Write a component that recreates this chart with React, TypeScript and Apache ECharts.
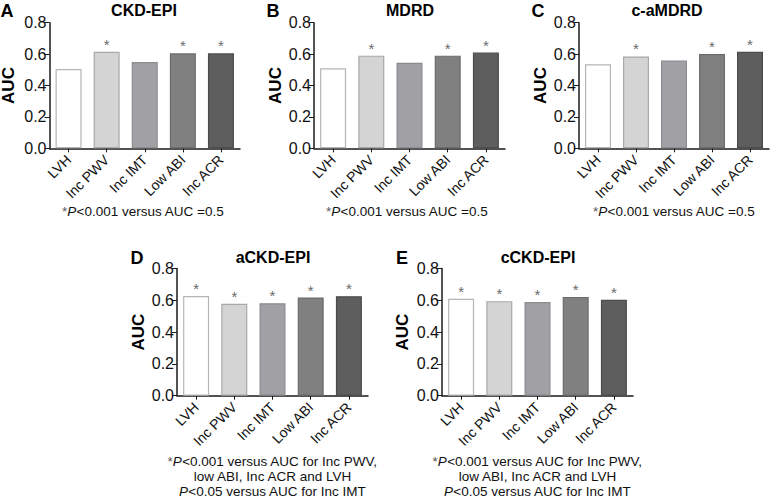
import React, { useEffect, useRef } from "react";
import * as echarts from "echarts";

const categories = ["LVH", "Inc PWV", "Inc IMT", "Low ABI", "Inc ACR"];

const ckdEpiValues = [0.505, 0.615, 0.55, 0.605, 0.605];
const mdrdValues = [0.51, 0.59, 0.545, 0.59, 0.61];
const caMdrdValues = [0.535, 0.585, 0.56, 0.6, 0.615];
const aCkdEpiValues = [0.628, 0.578, 0.582, 0.618, 0.626];
const cCkdEpiValues = [0.61, 0.595, 0.59, 0.622, 0.604];

const sigTop = [false, true, false, true, true];
const sigAll = [true, true, true, true, true];

const yMin = 0;
const yMax = 0.8;
const yStep = 0.2;

const fills = ["#ffffff", "#d4d4d4", "#a1a1a5", "#808080", "#5e5e5e"];
const borders = ["#b5b5b5", "#a8a8a8", "#8c8c90", "#6c6c6c", "#4c4c4c"];

const FONT = '"Liberation Sans", Arial, Helvetica, sans-serif';

const noteTop = ["{a|*}{b|P}{c|<0.001 versus AUC =0.5}"];
const noteBottom = [
  "{a|*}{b|P}{c|<0.001 versus AUC for Inc PWV,}",
  "{c|low ABI, Inc ACR and LVH}",
  "{b|P}{c|<0.05 versus AUC for Inc IMT}",
];

const panels = [
  { letter: "A", title: "CKD-EPI", values: ckdEpiValues, sig: sigTop, left: 49.5, top: 22.7, width: 190.5, height: 125.6, titleX: 144, titleY: 10, letterX: 7, aucX: 8.5, noteX: 143, noteY: [211], notes: noteTop },
  { letter: "B", title: "MDRD", values: mdrdValues, sig: sigTop, left: 314, top: 22.7, width: 191, height: 125.6, titleX: 410, titleY: 10, letterX: 273, aucX: 275, noteX: 407, noteY: [211], notes: noteTop },
  { letter: "C", title: "c-aMDRD", values: caMdrdValues, sig: sigTop, left: 579, top: 22.7, width: 190, height: 125.6, titleX: 667, titleY: 10, letterX: 538, aucX: 540, noteX: 674, noteY: [211], notes: noteTop },
  { letter: "D", title: "aCKD-EPI", values: aCkdEpiValues, sig: sigAll, left: 177, top: 268.6, width: 191, height: 127.1, titleX: 273, titleY: 257, letterX: 137, aucX: 138, noteX: 272.5, noteY: [461, 476.5, 491.5], notes: noteBottom },
  { letter: "E", title: "cCKD-EPI", values: cCkdEpiValues, sig: sigAll, left: 442, top: 268.6, width: 191, height: 127.1, titleX: 538, titleY: 257, letterX: 402, aucX: 402, noteX: 537.5, noteY: [461, 476.5, 491.5], notes: noteBottom },
];

export default function App() {
  const ref = useRef<HTMLDivElement | null>(null);

  useEffect(() => {
    if (!ref.current) return;
    const chart = echarts.init(ref.current, null, { renderer: "svg" });

    const grids: any[] = [];
    const xAxes: any[] = [];
    const yAxes: any[] = [];
    const series: any[] = [];
    const graphics: any[] = [];

    const rich = {
      a: { fontSize: 13.5, fontFamily: FONT, fill: "#555", color: "#555" },
      b: { fontSize: 13.5, fontFamily: FONT, fontStyle: "italic", fill: "#111", color: "#111" },
      c: { fontSize: 13.5, fontFamily: FONT, fill: "#111", color: "#111" },
    };

    panels.forEach((p, idx) => {
      grids.push({ left: p.left, top: p.top, width: p.width, height: p.height, containLabel: false });
      xAxes.push({
        type: "category",
        gridIndex: idx,
        data: categories,
        boundaryGap: true,
        axisLine: { lineStyle: { color: "#1a1a1a", width: 1.5 } },
        axisTick: { show: true, alignWithLabel: true, length: 4, lineStyle: { color: "#1a1a1a", width: 1 } },
        axisLabel: { rotate: 45, fontSize: 14, fontFamily: FONT, color: "#111", margin: 9, interval: 0 },
        splitLine: { show: false },
      });
      yAxes.push({
        type: "value",
        gridIndex: idx,
        min: yMin,
        max: yMax,
        interval: yStep,
        axisLine: { show: true, lineStyle: { color: "#1a1a1a", width: 1.5 } },
        axisTick: { show: true, length: 5, lineStyle: { color: "#1a1a1a", width: 1 } },
        axisLabel: { fontSize: 16, fontFamily: FONT, color: "#111", margin: 3, formatter: (v: number) => v.toFixed(1) },
        splitLine: { show: false },
      });
      series.push({
        type: "bar",
        xAxisIndex: idx,
        yAxisIndex: idx,
        barWidth: 26,
        data: p.values.map((v, i) => ({
          value: v,
          itemStyle: { color: fills[i], borderColor: borders[i], borderWidth: 1.2 },
          label: { show: p.sig[i] },
        })),
        label: {
          show: false,
          position: "top",
          distance: 0,
          formatter: "*",
          fontSize: 15,
          fontFamily: FONT,
          color: "#6a6a6a",
        },
      });

      graphics.push({
        type: "text",
        x: p.letterX,
        y: p.titleY + 1,
        style: { text: p.letter, font: `bold 18px ${FONT}`, fill: "#000", align: "center", verticalAlign: "middle", textAlign: "center", textVerticalAlign: "middle" },
      });
      graphics.push({
        type: "text",
        x: p.titleX,
        y: p.titleY,
        style: { text: p.title, font: `bold 16px ${FONT}`, fill: "#000", align: "center", verticalAlign: "middle", textAlign: "center", textVerticalAlign: "middle" },
      });
      graphics.push({
        type: "text",
        x: p.aucX,
        y: p.top + p.height / 2,
        rotation: Math.PI / 2,
        style: { text: "AUC", font: `bold 17px ${FONT}`, fill: "#000", align: "center", verticalAlign: "middle", textAlign: "center", textVerticalAlign: "middle" },
      });
      p.notes.forEach((n, k) => {
        graphics.push({
          type: "text",
          x: p.noteX,
          y: p.noteY[k],
          style: { text: n, rich, font: `13.5px ${FONT}`, fill: "#111", align: "center", verticalAlign: "middle", textAlign: "center", textVerticalAlign: "middle" },
        });
      });
    });

    chart.setOption({
      animation: false,
      backgroundColor: "#ffffff",
      grid: grids,
      xAxis: xAxes,
      yAxis: yAxes,
      series,
      graphic: { elements: graphics },
    });

    return () => {
      chart.dispose();
    };
  }, []);

  return (
    <div
      ref={ref}
      style={{ position: "fixed", left: 0, top: 0, width: 770, height: 499, background: "#fff" }}
    />
  );
}
